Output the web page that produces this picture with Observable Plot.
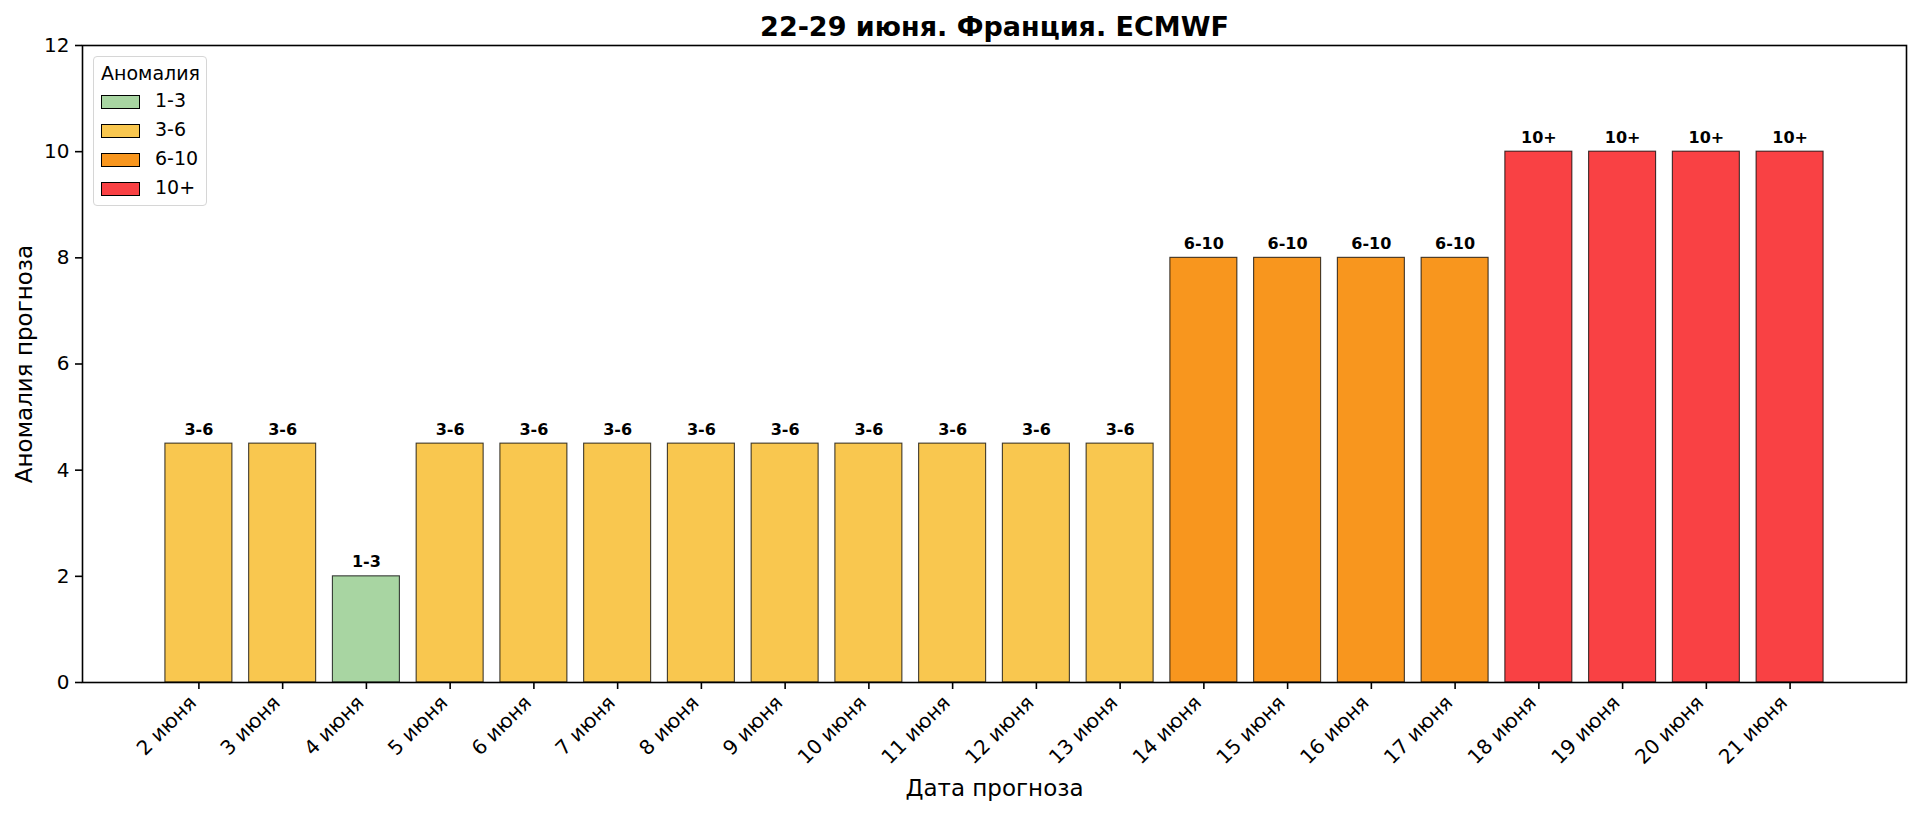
<!DOCTYPE html>
<html>
<head>
<meta charset="utf-8">
<script src="https://cdn.jsdelivr.net/npm/d3@7"></script>
<script src="https://cdn.jsdelivr.net/npm/@observablehq/plot@0.6"></script>
<style>
  html, body { margin: 0; padding: 0; background: white; }
  #wrap { position: relative; width: 1920px; height: 813px; font-family: "DejaVu Sans", sans-serif; }
  #legend { position: absolute; left: 93px; top: 56px; width: 112px; height: 148px;
    border: 1px solid #d6d6d6; border-radius: 4px; background: rgba(255,255,255,0.8); font-size: 19px; color: #000; }
  #legend .ttl { position: absolute; left: 7px; top: 5px; }
  #legend .row { position: absolute; left: 7px; height: 20px; }
  #legend .sw { position: absolute; left: 0; top: 2px; width: 37px; height: 12px; border: 1.5px solid #000; }
  #legend .lb { position: absolute; left: 54px; top: -4px; white-space: nowrap; }
</style>
</head>
<body>
<div id="wrap"><div id="chart"></div><div id="legend"></div></div>
<script>
const title = "22-29 июня. Франция. ECMWF";
const xLabel = "Дата прогноза";
const yLabel = "Аномалия прогноза";
const legendTitle = "Аномалия";

const dates = ["2 июня","3 июня","4 июня","5 июня","6 июня","7 июня","8 июня","9 июня","10 июня","11 июня",
               "12 июня","13 июня","14 июня","15 июня","16 июня","17 июня","18 июня","19 июня","20 июня","21 июня"];
const values = [4.5,4.5,2,4.5,4.5,4.5,4.5,4.5,4.5,4.5,4.5,4.5,8,8,8,8,10,10,10,10];
const cats = ["3-6","3-6","1-3","3-6","3-6","3-6","3-6","3-6","3-6","3-6","3-6","3-6",
              "6-10","6-10","6-10","6-10","10+","10+","10+","10+"];
const catNames = ["1-3","3-6","6-10","10+"];
const catColors = ["#a8d5a2","#f9c74f","#f8961e","#f94144"];
const yTicks = [0,2,4,6,8,10,12];

const data = dates.map((d, i) => ({date: d, value: values[i], cat: cats[i]}));

const chart = Plot.plot({
  width: 1920,
  height: 813,
  marginLeft: 82,
  marginRight: 14,
  marginTop: 45,
  marginBottom: 131,
  style: {fontFamily: "DejaVu Sans, sans-serif", fontSize: "20px", color: "black", background: "white"},
  x: {type: "band", domain: dates, paddingInner: 0.2, paddingOuter: 0.99, align: 0.5, round: false},
  y: {domain: [0, 12]},
  color: {domain: catNames, range: catColors},
  marks: [
    Plot.barY(data, {x: "date", y: "value", fill: "cat", stroke: "black", strokeWidth: 1.1, strokeOpacity: 0.75}),
    Plot.text(data, {x: "date", y: "value", text: "cat", dy: -9, lineAnchor: "bottom", fontWeight: "bold", fontSize: 16}),
    Plot.frame({stroke: "black", strokeWidth: 1.6}),
    Plot.axisY({ticks: yTicks, tickSize: 7, tickPadding: 6, strokeWidth: 1.6, fontSize: 20,
      label: yLabel, labelAnchor: "center", labelArrow: "none", labelOffset: 67}),
    Plot.axisX({tickRotate: -45, tickSize: 7, tickPadding: 6, strokeWidth: 1.6, fontSize: 20, textStroke: "none",
      label: xLabel, labelAnchor: "center", labelArrow: "none", labelOffset: 113}),
    Plot.text([title], {frameAnchor: "top", dy: -10, lineAnchor: "bottom", fontWeight: "bold", fontSize: 27})
  ]
});
document.getElementById("chart").appendChild(chart);

chart.querySelectorAll("g[aria-label='y-axis label'] text, g[aria-label='x-axis label'] text").forEach(t => t.setAttribute("font-size", "23"));
// nudge rotated x tick labels to mimic right-aligned bounding-box placement
const xt = chart.querySelector("g[aria-label='x-axis tick label']");
if (xt) {
  const tr = xt.getAttribute("transform") || "";
  xt.setAttribute("transform", (tr + " translate(-6,4)").trim());
}

const leg = document.getElementById("legend");
const t = document.createElement("div"); t.className = "ttl"; t.textContent = legendTitle; leg.appendChild(t);
catNames.forEach((c, i) => {
  const r = document.createElement("div"); r.className = "row"; r.style.top = (36 + i * 29) + "px";
  const s = document.createElement("div"); s.className = "sw"; s.style.background = catColors[i];
  const l = document.createElement("div"); l.className = "lb"; l.textContent = c;
  r.appendChild(s); r.appendChild(l); leg.appendChild(r);
});
</script>
</body>
</html>
